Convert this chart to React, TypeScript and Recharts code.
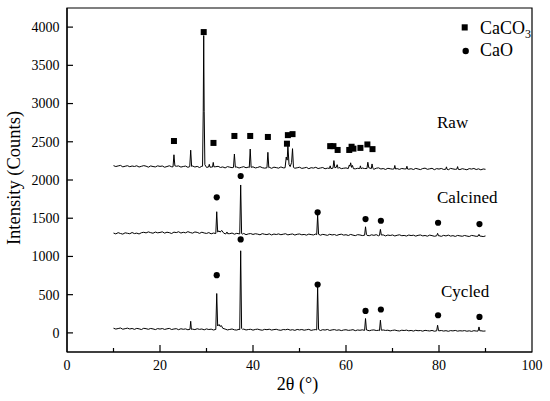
import { ComposedChart, Line, Scatter, XAxis, YAxis, ReferenceArea } from 'recharts';

const FONT = "'Liberation Serif', 'DejaVu Serif', serif";
const txt = { fontFamily: FONT };

// shared 2θ grid for the background of every pattern
const baseAngles = [
  10, 10.5, 11, 11.5, 12, 12.5, 13, 13.5, 14, 14.5,
  15, 15.5, 16, 16.5, 17, 17.5, 18, 18.5, 19, 19.5,
  20, 20.5, 21, 21.5, 22, 22.5, 23, 23.5, 24, 24.5,
  25, 25.5, 26, 26.5, 27, 27.5, 28, 28.5, 29, 29.5,
  30, 30.5, 31, 31.5, 32, 32.5, 33, 33.5, 34, 34.5,
  35, 35.5, 36, 36.5, 37, 37.5, 38, 38.5, 39, 39.5,
  40, 40.5, 41, 41.5, 42, 42.5, 43, 43.5, 44, 44.5,
  45, 45.5, 46, 46.5, 47, 47.5, 48, 48.5, 49, 49.5,
  50, 50.5, 51, 51.5, 52, 52.5, 53, 53.5, 54, 54.5,
  55, 55.5, 56, 56.5, 57, 57.5, 58, 58.5, 59, 59.5,
  60, 60.5, 61, 61.5, 62, 62.5, 63, 63.5, 64, 64.5,
  65, 65.5, 66, 66.5, 67, 67.5, 68, 68.5, 69, 69.5,
  70, 70.5, 71, 71.5, 72, 72.5, 73, 73.5, 74, 74.5,
  75, 75.5, 76, 76.5, 77, 77.5, 78, 78.5, 79, 79.5,
  80, 80.5, 81, 81.5, 82, 82.5, 83, 83.5, 84, 84.5,
  85, 85.5, 86, 86.5, 87, 87.5, 88, 88.5, 89, 89.5,
  90,
];

const rawBase = [
  2188, 2176, 2184, 2191, 2172, 2180, 2187, 2174, 2183, 2177,
  2186, 2170, 2179, 2188, 2181, 2168, 2184, 2176, 2171, 2185,
  2178, 2183, 2167, 2176, 2186, 2173, 2165, 2180, 2184, 2169,
  2177, 2182, 2166, 2174, 2183, 2170, 2178, 2163, 2180, 2172,
  2165, 2177, 2169, 2160, 2174, 2179, 2164, 2171, 2158, 2175,
  2168, 2161, 2176, 2170, 2157, 2166, 2174, 2160, 2169, 2163,
  2172, 2158, 2164, 2175, 2161, 2155, 2170, 2166, 2153, 2168,
  2162, 2155, 2171, 2159, 2166, 2150, 2163, 2169, 2154, 2160,
  2167, 2152, 2158, 2165, 2148, 2161, 2156, 2166, 2150, 2157,
  2163, 2147, 2155, 2161, 2152, 2145, 2159, 2164, 2149, 2154,
  2158, 2144, 2151, 2160, 2146, 2153, 2141, 2157, 2150, 2143,
  2155, 2148, 2140, 2154, 2159, 2144, 2150, 2138, 2153, 2147,
  2142, 2156, 2149, 2139, 2151, 2145, 2157, 2141, 2148, 2137,
  2152, 2144, 2136, 2150, 2155, 2140, 2146, 2153, 2135, 2149,
  2143, 2151, 2138, 2147, 2134, 2152, 2145, 2139, 2150, 2136,
  2148, 2141, 2134, 2149, 2143, 2151, 2137, 2146, 2133, 2144,
  2140,
];

const calcinedBase = [
  1306, 1295, 1311, 1300, 1292, 1309, 1303, 1297, 1313, 1299,
  1305, 1294, 1310, 1316, 1308, 1321, 1311, 1304, 1319, 1309,
  1314, 1322, 1305, 1317, 1311, 1300, 1318, 1312, 1323, 1306,
  1316, 1309, 1324, 1313, 1305, 1320, 1315, 1302, 1317, 1307,
  1301, 1312, 1296, 1306, 1314, 1300, 1309, 1317, 1295, 1305,
  1298, 1306, 1291, 1302, 1296, 1290, 1301, 1285, 1295, 1299,
  1288, 1297, 1292, 1283, 1298, 1290, 1286, 1296, 1281, 1293,
  1287, 1295, 1284, 1291, 1297, 1282, 1289, 1294, 1280, 1290,
  1294, 1283, 1288, 1279, 1292, 1286, 1281, 1293, 1285, 1278,
  1289, 1283, 1276, 1290, 1281, 1287, 1275, 1286, 1291, 1279,
  1284, 1274, 1288, 1279, 1272, 1285, 1281, 1273, 1286, 1277,
  1271, 1283, 1276, 1285, 1270, 1278, 1282, 1269, 1280, 1274,
  1281, 1268, 1277, 1283, 1271, 1275, 1267, 1280, 1273, 1278,
  1266, 1276, 1281, 1269, 1274, 1265, 1279, 1272, 1264, 1277,
  1271, 1263, 1276, 1268, 1279, 1266, 1272, 1262, 1275, 1269,
  1264, 1274, 1267, 1261, 1275, 1270, 1263, 1272, 1266, 1260,
  1268,
];

const cycledBase = [
  61, 50, 57, 64, 48, 55, 62, 51, 58, 46,
  59, 53, 44, 60, 55, 47, 58, 52, 43, 56,
  50, 57, 45, 53, 59, 44, 51, 55, 42, 54,
  47, 52, 41, 55, 49, 43, 54, 46, 51, 40,
  52, 44, 49, 38, 47, 53, 41, 46, 50, 39,
  45, 51, 40, 37, 48, 43, 50, 38, 44, 47,
  36, 45, 49, 40, 35, 46, 42, 48, 37, 43,
  47, 38, 34, 44, 41, 48, 36, 42, 33, 45,
  39, 44, 35, 41, 46, 33, 40, 43, 36, 31,
  42, 37, 45, 32, 39, 43, 34, 40, 30, 38,
  41, 33, 36, 42, 29, 38, 34, 40, 31, 37,
  28, 36, 39, 31, 34, 27, 38, 32, 35, 26,
  33, 37, 29, 25, 35, 31, 36, 27, 32, 24,
  34, 28, 31, 23, 33, 29, 25, 32, 22, 30,
  27, 31, 24, 29, 21, 30, 26, 32, 23, 28,
  25, 30, 22, 27, 20, 29, 24, 19, 28, 23,
  25,
];

// diffraction peaks, [2θ, counts]
const rawPeaks = [
  [[22.8, 2172], [23.0, 2330], [23.2, 2185]],
  [[26.4, 2175], [26.6, 2390], [26.8, 2178]],
  [[29.15, 2180], [29.3, 2900], [29.4, 3890], [29.5, 2900], [29.65, 2200]],
  [[30.45, 2170], [30.6, 2205], [30.75, 2168]],
  [[31.3, 2170], [31.45, 2230], [31.6, 2172]],
  [[35.8, 2165], [36.0, 2340], [36.2, 2168]],
  [[39.2, 2163], [39.4, 2405], [39.6, 2166]],
  [[43.0, 2160], [43.2, 2362], [43.4, 2162]],
  [[46.9, 2160], [47.15, 2300], [47.35, 2260], [47.5, 2450], [47.75, 2200], [48.0, 2175], [48.3, 2230], [48.5, 2410], [48.7, 2165]],
  [[56.45, 2152], [56.6, 2185], [56.75, 2150]],
  [[57.2, 2155], [57.4, 2254], [57.6, 2160], [57.9, 2165], [58.1, 2200], [58.3, 2152]],
  [[60.5, 2150], [60.7, 2195], [60.85, 2180], [61.0, 2225], [61.2, 2165], [61.4, 2190], [61.6, 2148]],
  [[62.95, 2150], [63.1, 2185], [63.25, 2148]],
  [[64.5, 2150], [64.7, 2232], [64.9, 2160], [65.45, 2150], [65.6, 2210], [65.8, 2150]],
  [[70.35, 2146], [70.5, 2190], [70.65, 2144]],
  [[72.95, 2145], [73.1, 2180], [73.25, 2143]],
  [[81.45, 2141], [81.6, 2172], [81.75, 2140]],
  [[83.85, 2143], [84.0, 2175], [84.15, 2140]],
];

const calcinedPeaks = [
  [[32.0, 1300], [32.2, 1585], [32.4, 1320], [32.7, 1335], [32.9, 1318], [33.3, 1340], [33.6, 1312]],
  [[34.25, 1300], [34.4, 1320], [34.55, 1298]],
  [[37.15, 1295], [37.35, 1935], [37.55, 1300], [37.8, 1292]],
  [[53.7, 1285], [53.9, 1541], [54.1, 1290]],
  [[64.0, 1278], [64.2, 1388], [64.4, 1285]],
  [[67.2, 1275], [67.4, 1354], [67.6, 1280]],
  [[79.5, 1270], [79.7, 1302], [79.9, 1270]],
  [[88.4, 1265], [88.6, 1289], [88.8, 1265]],
];

const cycledPeaks = [
  [[26.45, 48], [26.6, 152], [26.75, 46]],
  [[32.0, 45], [32.2, 515], [32.4, 90], [32.7, 110], [32.9, 85], [33.2, 95], [33.5, 60]],
  [[37.15, 42], [37.35, 1074], [37.55, 60], [37.8, 44]],
  [[53.7, 38], [53.9, 602], [54.1, 45]],
  [[64.0, 33], [64.2, 188], [64.4, 38]],
  [[67.2, 30], [67.4, 166], [67.6, 35]],
  [[79.5, 27], [79.7, 100], [79.9, 28]],
  [[88.4, 24], [88.6, 78], [88.8, 25]],
];

// phase markers
const caco3Angles = [23.0, 29.4, 31.5, 36.0, 39.4, 43.2, 47.3, 47.5, 48.5, 56.6, 57.3, 58.2, 60.7, 61.2, 61.6, 63.1, 64.6, 65.7];
const caco3Heights = [2510, 3935, 2485, 2576, 2576, 2563, 2475, 2587, 2600, 2443, 2443, 2393, 2393, 2435, 2410, 2420, 2465, 2404];
const calcinedCaoAngles = [32.2, 37.35, 53.9, 64.2, 67.5, 79.8, 88.7];
const calcinedCaoHeights = [1773, 2052, 1577, 1489, 1467, 1441, 1423];
const cycledCaoAngles = [32.2, 37.35, 53.9, 64.2, 67.5, 79.8, 88.7];
const cycledCaoHeights = [755, 1223, 633, 287, 306, 231, 209];

const xTicks = [0, 10, 20, 30, 40, 50, 60, 70, 80, 90, 100];
const yTicks = [0, 500, 1000, 1500, 2000, 2500, 3000, 3500, 4000];

function buildPattern(base: number[], peaks: number[][][]) {
  const spans = peaks.map((p) => [p[0][0], p[p.length - 1][0]]);
  const pts = baseAngles
    .map((t, i) => ({ t, v: base[i] }))
    .filter((p) => !spans.some(([a, b]) => p.t >= a && p.t <= b));
  peaks.forEach((p) => p.forEach(([t, v]) => pts.push({ t, v })));
  return pts.sort((a, b) => a.t - b.t);
}

const toPoints = (angles: number[], heights: number[]) =>
  angles.map((t, i) => ({ t, v: heights[i] }));

const rawData = buildPattern(rawBase, rawPeaks);
const calcinedData = buildPattern(calcinedBase, calcinedPeaks);
const cycledData = buildPattern(cycledBase, cycledPeaks);
const caco3Points = toPoints(caco3Angles, caco3Heights);
const caoPoints = [
  ...toPoints(calcinedCaoAngles, calcinedCaoHeights),
  ...toPoints(cycledCaoAngles, cycledCaoHeights),
];

const Square = (props: any) => (
  <rect x={props.cx - 3} y={props.cy - 3} width={6} height={6} fill="#000" />
);
const Dot = (props: any) => <circle cx={props.cx} cy={props.cy} r={3.1} fill="#000" />;

const XTick = ({ x, y, payload }: any) => {
  const v = payload.value;
  const major = v % 20 === 0;
  const edge = v === 0 || v === 100;
  return (
    <g>
      {!edge && <line x1={x} x2={x} y1={y} y2={y - (major ? 7 : 4)} stroke="#000" strokeWidth={1.2} />}
      {major && (
        <text x={x} y={y + 18} textAnchor="middle" style={txt} fontSize={14} fill="#000">
          {v}
        </text>
      )}
    </g>
  );
};

const YTick = ({ x, y, payload }: any) => (
  <g>
    <line x1={x} x2={x + 6} y1={y} y2={y} stroke="#000" strokeWidth={1.2} />
    <text x={x - 7.5} y={y} dy="0.35em" textAnchor="end" style={txt} fontSize={14} fill="#000">
      {payload.value}
    </text>
  </g>
);

export default function App() {
  return (
    <div style={{ position: 'absolute', left: 0, top: 0, width: 550, height: 401, background: '#fff', fontFamily: FONT }}>
      <ComposedChart width={550} height={401} margin={{ top: 8, right: 18, bottom: 0, left: 0 }}>
        <XAxis
          dataKey="t"
          type="number"
          domain={[0, 100]}
          ticks={xTicks}
          allowDataOverflow
          height={49}
          tickLine={false}
          tickSize={0}
          tickMargin={0}
          tick={XTick}
          axisLine={{ stroke: '#000', strokeWidth: 1.2 }}
        />
        <YAxis
          type="number"
          domain={[-250, 4250]}
          ticks={yTicks}
          allowDataOverflow
          width={67}
          tickLine={false}
          tickSize={0}
          tickMargin={0}
          tick={YTick}
          axisLine={{ stroke: '#000', strokeWidth: 1.2 }}
        />
        <ReferenceArea x1={0} x2={100} y1={-250} y2={4250} fill="none" stroke="#000" strokeWidth={1.2} ifOverflow="visible" />
        <Line data={rawData} dataKey="v" type="linear" stroke="#000" strokeWidth={1} dot={false} isAnimationActive={false} />
        <Line data={calcinedData} dataKey="v" type="linear" stroke="#000" strokeWidth={1} dot={false} isAnimationActive={false} />
        <Line data={cycledData} dataKey="v" type="linear" stroke="#000" strokeWidth={1} dot={false} isAnimationActive={false} />
        <Scatter data={caco3Points} dataKey="v" shape={Square} isAnimationActive={false} />
        <Scatter data={caoPoints} dataKey="v" shape={Dot} isAnimationActive={false} />
      </ComposedChart>
      <svg
        width={550}
        height={401}
        style={{ position: 'absolute', left: 0, top: 0, pointerEvents: 'none', fontFamily: FONT }}
        fill="#000"
      >
        <rect x={461.7} y={24.3} width={6} height={6.2} />
        <text x={480} y={34} fontSize={18} style={txt}>
          CaCO<tspan fontSize={12} dy={3.5}>3</tspan>
        </text>
        <circle cx={465.7} cy={51} r={3.2} />
        <text x={480} y={55.7} fontSize={18} style={txt}>CaO</text>
        <text x={437} y={128} fontSize={17} style={txt}>Raw</text>
        <text x={437} y={203} fontSize={17} style={txt}>Calcined</text>
        <text x={441} y={296.5} fontSize={17} style={txt}>Cycled</text>
        <text x={297.5} y={390} fontSize={18} textAnchor="middle" style={txt}>2θ (°)</text>
        <text x={20} y={178} fontSize={18.5} textAnchor="middle" transform="rotate(-90 20 178)" style={txt}>
          Intensity (Counts)
        </text>
      </svg>
    </div>
  );
}
